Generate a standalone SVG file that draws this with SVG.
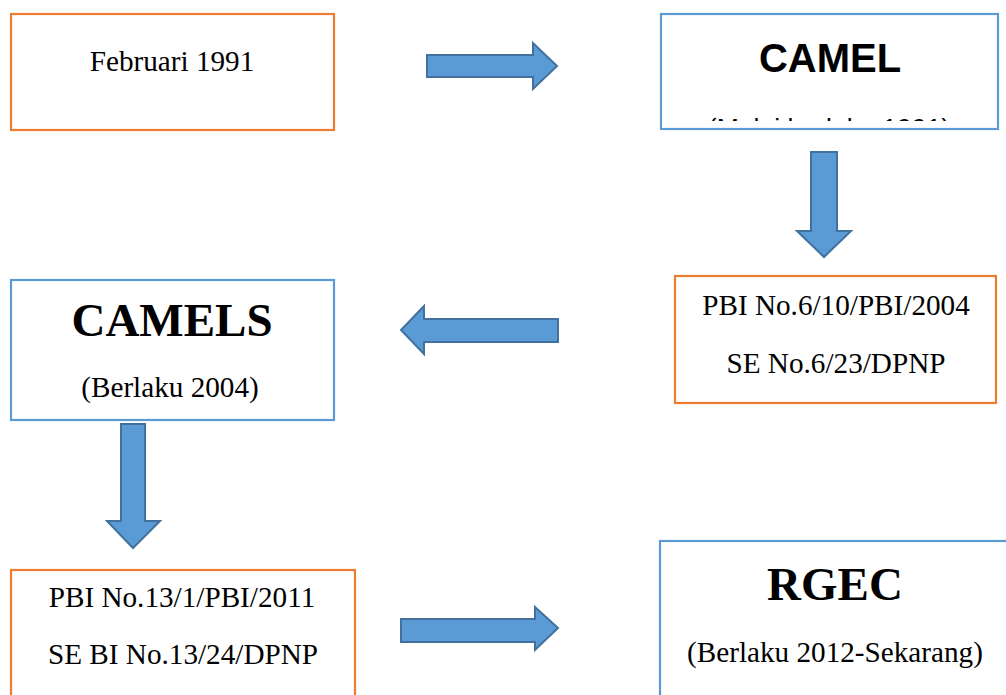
<svg xmlns="http://www.w3.org/2000/svg" width="1006" height="695" viewBox="0 0 1006 695">
  <style>
    .box-o { fill: #ffffff; stroke: #ED7D31; stroke-width: 2.2; }
    .box-b { fill: #ffffff; stroke: #5B9BD5; stroke-width: 2.2; }
    .arrow { fill: #5B9BD5; stroke: #41719C; stroke-width: 2; stroke-linejoin: miter; }
    .t { font-family: "Liberation Serif", "Times New Roman", serif; font-size: 29.2px; fill: #000; text-anchor: middle; }
    .tb { font-family: "Liberation Serif", "Times New Roman", serif; font-size: 47px; font-weight: bold; fill: #000; text-anchor: middle; }
    .sb { font-family: "Liberation Sans", Arial, sans-serif; font-size: 40px; font-weight: bold; fill: #000; text-anchor: middle; }
    .s { font-family: "Liberation Sans", Arial, sans-serif; font-size: 26.6px; fill: #000; text-anchor: middle; }
  </style>
  <defs>
    <clipPath id="camel-clip">
      <rect x="662" y="15" width="335" height="106"/>
    </clipPath>
  </defs>
  <rect width="1006" height="695" fill="#ffffff"/>

  <g id="node-feb1991">
    <rect class="box-o" x="11" y="14" width="323" height="116"/>
    <text class="t" x="172" y="71">Februari 1991</text>
  </g>

  <g id="node-camel">
    <rect class="box-b" x="661" y="14" width="337" height="115"/>
    <text class="sb" x="830" y="72">CAMEL</text>
    <text class="s" x="829" y="137" clip-path="url(#camel-clip)">(Mulai berlaku 1991)</text>
  </g>

  <g id="node-pbi2004">
    <rect class="box-o" x="675" y="276" width="321" height="127"/>
    <text class="t" x="836" y="315">PBI No.6/10/PBI/2004</text>
    <text class="t" x="836" y="373">SE No.6/23/DPNP</text>
  </g>

  <g id="node-camels">
    <rect class="box-b" x="11" y="280" width="323" height="140"/>
    <text class="tb" x="172" y="336">CAMELS</text>
    <text class="t" x="170" y="397">(Berlaku 2004)</text>
  </g>

  <g id="node-pbi2011">
    <rect class="box-o" x="11" y="570" width="344" height="140"/>
    <text class="t" x="182" y="607">PBI No.13/1/PBI/2011</text>
    <text class="t" x="183" y="664">SE BI No.13/24/DPNP</text>
  </g>

  <g id="node-rgec">
    <rect class="box-b" x="660" y="541" width="360" height="170"/>
    <text class="tb" x="835" y="600">RGEC</text>
    <text class="t" x="835" y="662">(Berlaku 2012-Sekarang)</text>
  </g>

  <g id="connectors">
    <!-- Februari 1991 to CAMEL -->
    <polygon class="arrow" points="427,55 533,55 533,43 557,66 533,89 533,77 427,77"/>
    <!-- CAMEL to PBI 2004 -->
    <polygon class="arrow" points="811,152 837,152 837,231 851,231 824,257 797,231 811,231"/>
    <!-- PBI 2004 to CAMELS -->
    <polygon class="arrow" points="558,319 424,319 424,306 401,330 424,354 424,342 558,342"/>
    <!-- CAMELS to PBI 2011 -->
    <polygon class="arrow" points="121,424 145,424 145,521 160,521 133,548 107,521 121,521"/>
    <!-- PBI 2011 to RGEC -->
    <polygon class="arrow" points="401,619 535,619 535,607 558,628 535,650 535,642 401,642"/>
  </g>
</svg>
